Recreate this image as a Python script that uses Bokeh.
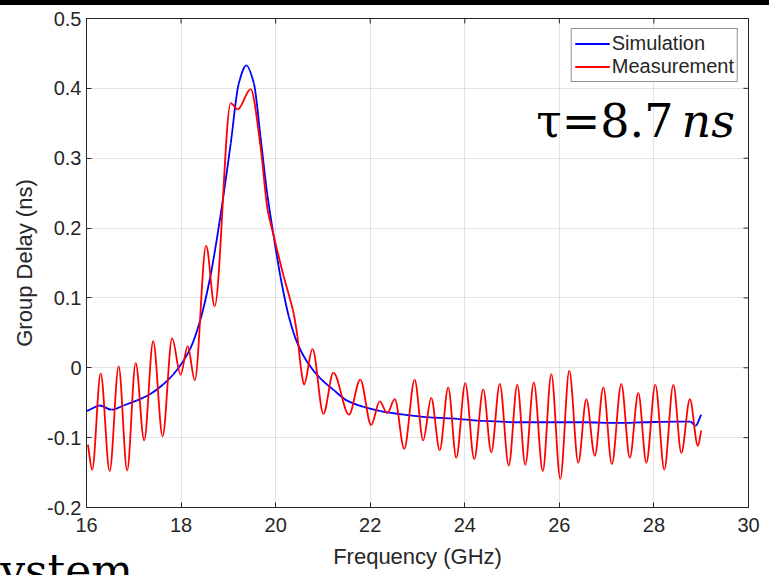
import numpy as np
from bokeh.plotting import figure
from bokeh.models import (Range1d, FixedTicker, Legend, LegendItem,
                          Label, Div, ColumnDataSource)
from bokeh.layouts import column
from bokeh.embed import file_html
from bokeh.resources import INLINE

# ---------------- data ----------------
sim_freq = [16.00, 16.07, 16.28, 16.53, 16.78, 17.06, 17.34, 17.62, 17.83, 18.04,
            18.20, 18.41, 18.62, 18.83, 19.05, 19.22, 19.38, 19.54, 19.68, 19.82,
            19.96, 20.10, 20.28, 20.46, 20.67, 20.93, 21.23, 21.51, 21.86, 22.22,
            22.71, 23.27, 23.84, 24.40, 25.11, 25.81, 26.52, 27.22, 27.79, 28.49,
            28.77, 28.88, 29.00]
sim_delay = [-0.062, -0.060, -0.054, -0.060, -0.054, -0.047, -0.038, -0.024, -0.010, 0.009,
             0.028, 0.069, 0.131, 0.216, 0.321, 0.407, 0.433, 0.407, 0.331, 0.250,
             0.188, 0.131, 0.073, 0.035, 0.008, -0.014, -0.032, -0.047, -0.056, -0.062,
             -0.067, -0.071, -0.073, -0.076, -0.078, -0.078, -0.078, -0.079, -0.078, -0.077,
             -0.077, -0.083, -0.067]

meas_freq = [16.03, 16.12, 16.30, 16.49, 16.68, 16.86, 17.04, 17.22, 17.41, 17.61,
             17.81, 17.99, 18.14, 18.29, 18.53, 18.71, 19.05, 19.20, 19.47, 19.68,
             19.83, 19.93, 20.03, 20.17, 20.31, 20.38, 20.46, 20.54, 20.60, 20.78,
             21.01, 21.22, 21.55, 21.79, 22.02, 22.20, 22.36, 22.52, 22.72, 22.94,
             23.12, 23.29, 23.47, 23.65, 23.82, 24.01, 24.20, 24.39, 24.56, 24.74,
             24.93, 25.11, 25.28, 25.46, 25.65, 25.83, 26.02, 26.21, 26.40, 26.57,
             26.75, 26.93, 27.11, 27.31, 27.49, 27.67, 27.84, 28.03, 28.22, 28.41,
             28.58, 28.76, 28.93, 29.00]
meas_delay = [-0.110, -0.146, -0.008, -0.148, 0.002, -0.147, 0.007, -0.104, 0.038, -0.098,
              0.042, -0.010, 0.031, -0.018, 0.175, 0.088, 0.379, 0.370, 0.399, 0.317,
              0.226, 0.197, 0.169, 0.131, 0.097, 0.078, 0.045, -0.003, -0.024, 0.027,
              -0.066, -0.007, -0.067, -0.017, -0.082, -0.048, -0.065, -0.045, -0.116, -0.017,
              -0.104, -0.043, -0.118, -0.028, -0.129, -0.022, -0.131, -0.031, -0.121, -0.023,
              -0.140, -0.024, -0.139, -0.021, -0.148, -0.009, -0.159, -0.004, -0.136, -0.045,
              -0.126, -0.028, -0.138, -0.023, -0.129, -0.036, -0.136, -0.024, -0.146, -0.024,
              -0.122, -0.045, -0.112, -0.090]

x_ticks = [16, 18, 20, 22, 24, 26, 28, 30]
x_tick_labels = ["16", "18", "20", "22", "24", "26", "28", "30"]
y_ticks = [-0.2, -0.1, 0.0, 0.1, 0.2, 0.3, 0.4, 0.5]
y_tick_labels = ["-0.2", "-0.1", "0", "0.1", "0.2", "0.3", "0.4", "0.5"]
x_limits = [16, 30]
y_limits = [-0.2, 0.5]

series_names = ["Simulation", "Measurement"]
series_colors = ["#0000ff", "#ff0000"]


def smooth_segments(xs, ys):
    """Monotone cubic Hermite segments through the read points, as Bezier controls."""
    x = np.asarray(xs, float)
    y = np.asarray(ys, float)
    h = np.diff(x)
    d = np.diff(y) / h
    n = len(x)
    m = np.zeros(n)
    m[0] = d[0]
    m[-1] = d[-1]
    for i in range(1, n - 1):
        if d[i - 1] * d[i] > 0:
            w1 = 2 * h[i] + h[i - 1]
            w2 = h[i] + 2 * h[i - 1]
            m[i] = (w1 + w2) / (w1 / d[i - 1] + w2 / d[i])
    return dict(x0=x[:-1], y0=y[:-1], x1=x[1:], y1=y[1:],
                cx0=x[:-1] + h / 3, cy0=y[:-1] + m[:-1] * h / 3,
                cx1=x[1:] - h / 3, cy1=y[1:] - m[1:] * h / 3)


AX = "#262626"
FONT = "Liberation Sans"

p = figure(width=769, height=570,
           x_range=Range1d(*x_limits), y_range=Range1d(*y_limits),
           output_backend="svg", toolbar_location=None, margin=(0, 0, 0, 0),
           min_border_left=86, min_border_right=21, min_border_top=13, min_border_bottom=68)
p.background_fill_color = "white"
p.border_fill_color = "white"
p.outline_line_color = AX
p.outline_line_width = 1

xt = FixedTicker(ticks=x_ticks)
yt = FixedTicker(ticks=y_ticks)

p.xaxis.ticker = xt
p.xaxis.major_label_overrides = {t: l for t, l in zip(x_ticks, x_tick_labels)}
p.xaxis.axis_label = "Frequency (GHz)"
p.yaxis.ticker = yt
p.yaxis.major_label_overrides = {t: l for t, l in zip(y_ticks, y_tick_labels)}
p.yaxis.axis_label = "Group Delay (ns)"

for ax in list(p.xaxis) + list(p.yaxis):
    ax.axis_line_color = AX
    ax.major_tick_line_color = AX
    ax.major_tick_in = 5
    ax.major_tick_out = 0
    ax.minor_tick_line_color = None
    ax.major_label_text_font = FONT
    ax.major_label_text_font_size = "20px"
    ax.major_label_text_color = AX
    ax.axis_label_text_font = FONT
    ax.axis_label_text_font_size = "22px"
    ax.axis_label_text_font_style = "normal"
    ax.axis_label_text_color = AX
p.xaxis.major_label_standoff = 10
p.xaxis.axis_label_standoff = 9
p.yaxis.major_label_standoff = 5
p.yaxis.axis_label_standoff = 7

# inward ticks on the top and right edges of the box (half of each dash is clipped away)
p.scatter(x=x_ticks, y=[y_limits[1]] * len(x_ticks), marker="dash", size=10,
          angle=np.pi / 2, line_color=AX, line_width=1)
p.scatter(x=[x_limits[1]] * len(y_ticks), y=y_ticks, marker="dash", size=10,
          line_color=AX, line_width=1)

p.xgrid.grid_line_color = AX
p.xgrid.grid_line_alpha = 0.13
p.ygrid.grid_line_color = AX
p.ygrid.grid_line_alpha = 0.13
p.xgrid.ticker = xt
p.ygrid.ticker = yt

renderers = []
for fx, fy, col in [(sim_freq, sim_delay, series_colors[0]), (meas_freq, meas_delay, series_colors[1])]:
    src = ColumnDataSource(smooth_segments(fx, fy))
    r = p.bezier(x0="x0", y0="y0", x1="x1", y1="y1", cx0="cx0", cy0="cy0", cx1="cx1", cy1="cy1",
                 source=src, line_color=col, line_width=1.8)
    renderers.append(r)

legend = Legend(items=[LegendItem(label=n, renderers=[r]) for n, r in zip(series_names, renderers)],
                location="top_right", margin=10, padding=3, spacing=0,
                label_text_font=FONT, label_text_font_size="20px", label_text_color=AX,
                label_height=23, glyph_height=23, glyph_width=35, label_standoff=2,
                border_line_color=AX, border_line_width=1, background_fill_alpha=1)
p.add_layout(legend, "center")

p.add_layout(Label(x=587, y=387, x_units="screen", y_units="screen", text="τ=8.7",
                   text_align="right", text_baseline="alphabetic", text_font="DejaVu Serif",
                   text_font_size="46px", text_color="black"))
p.add_layout(Label(x=595, y=387, x_units="screen", y_units="screen", text="ns",
                   text_align="left", text_baseline="alphabetic", text_font="DejaVu Serif",
                   text_font_style="italic", text_font_size="46px", text_color="black"))

bar = Div(text="", width=769, height=5, margin=(0, 0, 0, 0),
          styles={"background-color": "black"})
# slide text cut off by the bottom edge of the picture ("System", of which "ystem" shows)
sys_text = Div(text="System", width=180, height=26, margin=(-26, 0, 0, -30),
               styles={"font-family": "DejaVu Serif", "font-size": "44px", "line-height": "44px",
                       "color": "black", "overflow": "hidden", "white-space": "nowrap",
                       "background": "transparent"})
layout = column(bar, p, sys_text, spacing=0)

open("out.html", "w").write(file_html(layout, INLINE))
